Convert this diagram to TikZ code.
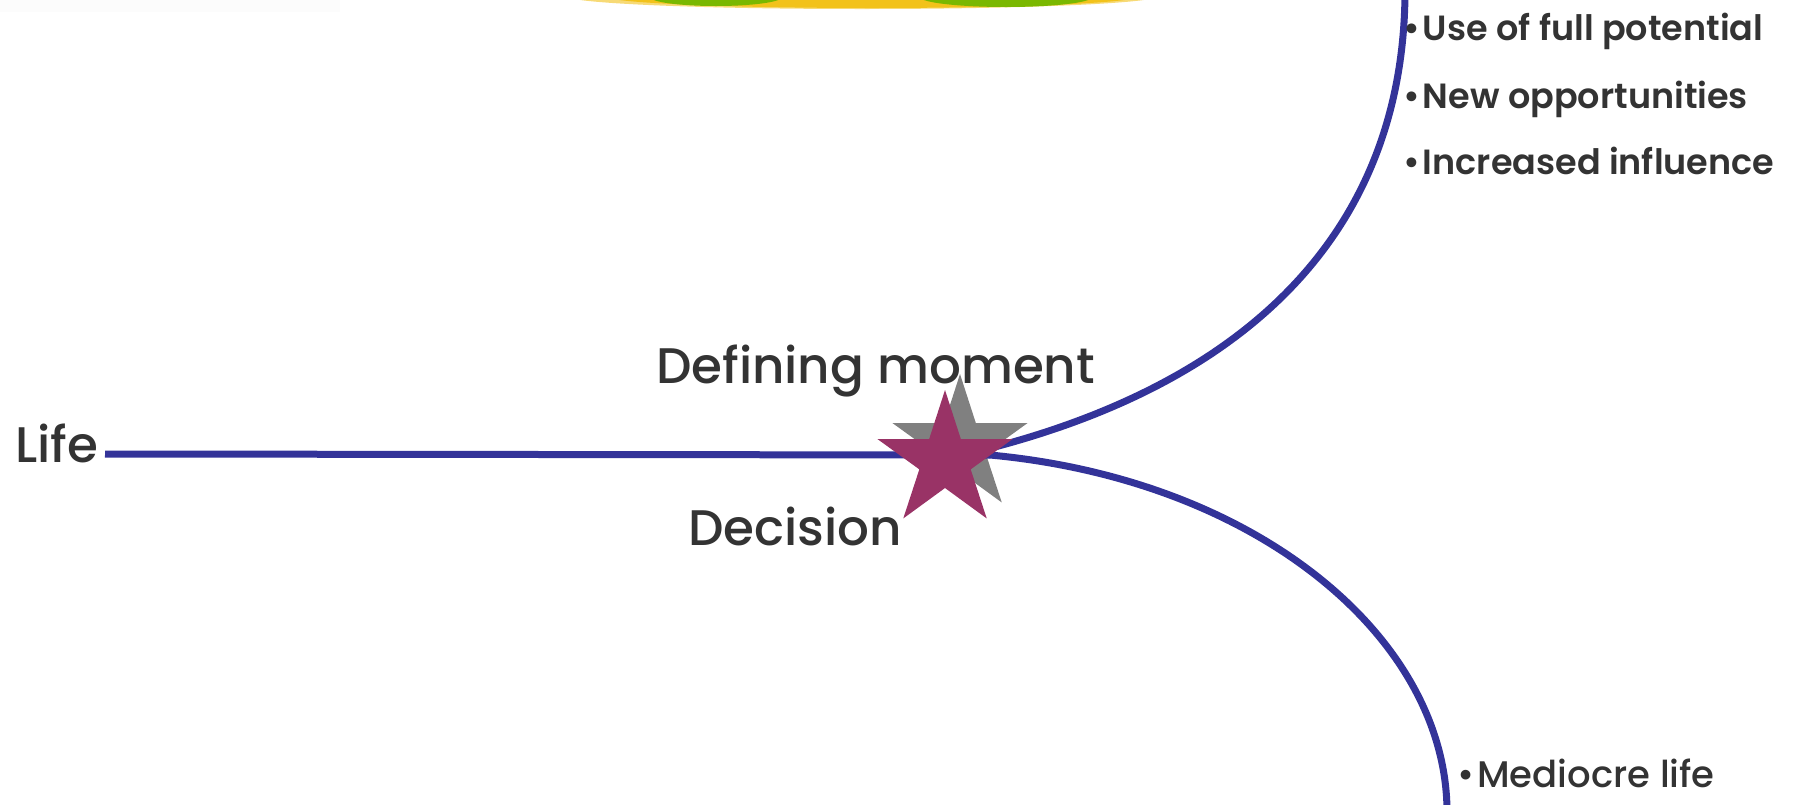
\documentclass[tikz,border=0pt]{standalone}
\usepackage{fontspec}
\setmainfont{Poppins}
\newfontfamily\popmed{Poppins Medium}
\newfontfamily\popsemi{Poppins SemiBold}
\definecolor{pathblue}{HTML}{333399}
\definecolor{starmag}{HTML}{993366}
\definecolor{stargray}{HTML}{808080}
\definecolor{txt}{HTML}{333333}
\definecolor{blobyellow}{HTML}{F2C21A}
\definecolor{blobgreen}{HTML}{7AB800}
\tikzset{
  pathline/.style={draw=pathblue, line width=7pt},
  bigtext/.style={anchor=base west, inner sep=0pt, text=txt, font=\popmed\fontsize{50}{60}\selectfont},
  bullettext/.style={anchor=base west, inner sep=0pt, text=txt, font=\popsemi\fontsize{35}{44}\selectfont},
  lowtext/.style={anchor=base west, inner sep=0pt, text=txt, font=\popmed\fontsize{37}{44}\selectfont}
}
\begin{document}
\begin{tikzpicture}[x=1pt, y=-1pt]
\useasboundingbox (0,0) rectangle (1801,804);
\begin{scope}
\clip (0,0) rectangle (1801,804);
% faint strip and blob at top
\fill[gray!2] (0,-5) rectangle (340,12);
\fill[blobyellow!60] (862,-4) ellipse [x radius=296, y radius=13];
\fill[blobyellow] (872,-4) ellipse [x radius=268, y radius=12];
\fill[blobgreen] (716,-3) ellipse [x radius=66, y radius=9];
\fill[blobgreen] (1006,-3) ellipse [x radius=86, y radius=10];
% gray shadow star
\begin{scope}[shift={(960,445)}]
\fill[stargray] (-90:71) -- (-54:27) -- (-18:71) -- (18:27) -- (54:71) -- (90:27) -- (126:71) -- (162:27) -- (198:71) -- (234:27) -- cycle;
\end{scope}
% paths
\coordinate (start) at (105,454);
\coordinate (fork) at (990,455);
\coordinate (upstart) at (975,452);
\coordinate (upend) at (1405,-6);
\coordinate (lowend) at (1447,812);
\draw[pathline] (start) -- (fork);
\draw[pathline] (upstart) .. controls (1250,385) and (1403,230) .. (upend);
\draw[pathline] (fork) .. controls (1260,480) and (1447,640) .. (lowend);
% magenta star
\begin{scope}[shift={(945,461)}]
\fill[starmag] (-90:71) -- (-54:27) -- (-18:71) -- (18:27) -- (54:71) -- (90:27) -- (126:71) -- (162:27) -- (198:71) -- (234:27) -- cycle;
\end{scope}
\end{scope}
% texts
\node[bigtext] (life) at (15,462) {Life};
\node[bigtext] (defining) at (656,383) {Defining moment};
\node[bigtext] (decision) at (688,545) {Decision};
\node[bullettext] (b1) at (1403,40) {•\kern3pt Use of full potential};
\node[bullettext] (b2) at (1403,108) {•\kern3pt New opportunities};
\node[bullettext] (b3) at (1403,174) {•\kern3pt Increased influence};
\node[lowtext] (b4) at (1457,787) {•\kern3pt Mediocre life};
\end{tikzpicture}
\end{document}
